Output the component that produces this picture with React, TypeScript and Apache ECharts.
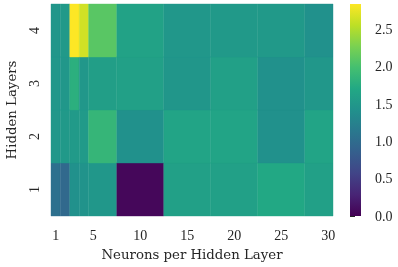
import React, { useEffect, useRef } from "react";
import * as echarts from "echarts";

const neurons = [1, 2, 3, 4, 5, 10, 15, 20, 25, 30];
const layers = [1, 2, 3, 4];
const layer1 = [1.05, 0.96, 1.42, 1.44, 1.5, 0.05, 1.6, 1.6, 1.7, 1.6];
const layer2 = [1.5, 1.52, 1.53, 1.53, 1.87, 1.42, 1.65, 1.65, 1.42, 1.65];
const layer3 = [1.5, 1.5, 1.79, 1.49, 1.58, 1.6, 1.48, 1.6, 1.42, 1.5];
const layer4 = [1.48, 1.52, 2.84, 2.64, 2.1, 1.63, 1.5, 1.52, 1.52, 1.42];
const xTickLabels = [1, 5, 10, 15, 20, 25, 30];
const yTickLabels = [1, 2, 3, 4];
const cbarTicks = [0, 0.5, 1.0, 1.5, 2.0, 2.5];

const viridis = [
  "#440154", "#482475", "#414487", "#355f8d", "#2a788e", "#21918c",
  "#22a884", "#44bf70", "#7ad151", "#bddf26", "#fde725",
];

const FONT = "Liberation Serif";
const NAME_FONT = "DejaVu Serif";
const TXT = "#262626";

export default function App() {
  const ref = useRef<HTMLDivElement>(null);
  useEffect(() => {
    const chart = echarts.init(ref.current!, null, { renderer: "svg" });
    const rows = [layer1, layer2, layer3, layer4];
    const vmax = Math.max(...rows.flat());
    const xMin = 0.5;
    const xMax = 30.5;
    const data: number[][] = [];
    layers.forEach((L, li) => {
      neurons.forEach((n, i) => {
        const lo = i === 0 ? n - (neurons[1] - n) / 2 : (neurons[i - 1] + n) / 2;
        const hi = i === neurons.length - 1 ? n + (n - neurons[i - 1]) / 2 : (n + neurons[i + 1]) / 2;
        data.push([n, L, rows[li][i], Math.max(lo, xMin), Math.min(hi, xMax)]);
      });
    });
    const labelStyle = { fontFamily: FONT, fontSize: 14, color: TXT };
    const nameStyle = { fontFamily: NAME_FONT, fontSize: 13.3, color: TXT };
    chart.setOption({
      animation: false,
      grid: [
        { left: 51, top: 4, width: 282, height: 212, outerBoundsMode: "none", containLabel: false },
        { left: 350, top: 4, width: 11, height: 212, outerBoundsMode: "none", containLabel: false },
      ],
      visualMap: {
        type: "continuous",
        show: false,
        min: 0,
        max: vmax,
        dimension: 2,
        seriesIndex: 0,
        inRange: { color: viridis },
      },
      xAxis: [
        {
          type: "value",
          gridIndex: 0,
          min: xMin,
          max: xMax,
          axisLine: { show: false },
          axisTick: { show: false },
          splitLine: { show: false },
          axisLabel: { ...labelStyle, customValues: xTickLabels, margin: 12 },
          name: "Neurons per Hidden Layer",
          nameLocation: "middle",
          nameGap: 32,
          nameTextStyle: nameStyle,
        },
        { type: "value", gridIndex: 1, min: 0, max: 1, show: false },
      ],
      yAxis: [
        {
          type: "value",
          gridIndex: 0,
          min: 0.5,
          max: 4.5,
          axisLine: { show: false },
          axisTick: { show: false },
          splitLine: { show: false },
          axisLabel: { ...labelStyle, customValues: yTickLabels, rotate: 90, margin: 10 },
          name: "Hidden Layers",
          nameLocation: "middle",
          nameGap: 33,
          nameTextStyle: nameStyle,
        },
        {
          type: "value",
          gridIndex: 1,
          min: 0,
          max: vmax,
          position: "right",
          axisLine: { show: false },
          axisTick: { show: true, length: 5, customValues: cbarTicks, lineStyle: { color: TXT, width: 1 } },
          splitLine: { show: false },
          axisLabel: {
            ...labelStyle,
            customValues: cbarTicks,
            margin: 14,
            formatter: (v: number) => v.toFixed(1),
          },
        },
      ],
      series: [
        {
          type: "custom",
          xAxisIndex: 0,
          yAxisIndex: 0,
          data,
          encode: { x: 0, y: 1 },
          renderItem: (params: any, api: any) => {
            const L = api.value(1);
            const p1 = api.coord([api.value(3), L + 0.5]);
            const p2 = api.coord([api.value(4), L - 0.5]);
            const c = api.visual("color");
            return {
              type: "rect",
              shape: { x: p1[0], y: p1[1], width: p2[0] - p1[0], height: p2[1] - p1[1] },
              style: { fill: c, stroke: c, lineWidth: 0.4 },
            };
          },
        },
        {
          type: "custom",
          xAxisIndex: 1,
          yAxisIndex: 1,
          data: [[0, 0, 1, vmax]],
          renderItem: (params: any, api: any) => {
            const p1 = api.coord([api.value(0), api.value(3)]);
            const p2 = api.coord([api.value(2), api.value(1)]);
            return {
              type: "rect",
              shape: { x: p1[0], y: p1[1], width: p2[0] - p1[0], height: p2[1] - p1[1] },
              style: {
                fill: new echarts.graphic.LinearGradient(
                  0, 1, 0, 0,
                  viridis.map((c, i) => ({ offset: i / (viridis.length - 1), color: c }))
                ),
              },
            };
          },
        },
      ],
    });
    return () => chart.dispose();
  }, []);
  return (
    <div
      ref={ref}
      style={{ position: "fixed", left: 0, top: 0, width: 398, height: 267 }}
    />
  );
}
